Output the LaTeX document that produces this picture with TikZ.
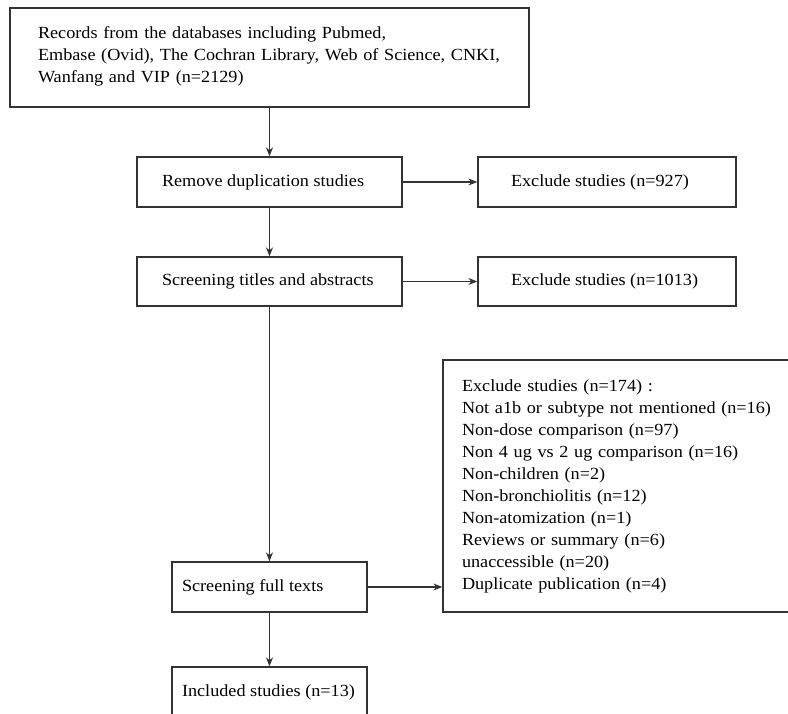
\documentclass[tikz,border=0pt]{standalone}
\usepackage{fontspec}
\setmainfont[FakeStretch=1.07]{Liberation Serif}
\usetikzlibrary{arrows.meta}
\newcommand{\lline}[2]{\makebox[#1][l]{#2}}
\begin{document}
\begin{tikzpicture}[x=1pt,y=-1pt,
  box/.style={draw=black!80, line width=1.3pt, rectangle, align=left, anchor=center,
    font=\fontsize{17}{22}\selectfont, inner ysep=0pt},
  arr/.style={draw=black!80, line width=1.2pt, -{Stealth[length=9pt,width=7pt]}}]
\useasboundingbox (0,0) rectangle (788,714);
\clip (0,0) rectangle (788,714);
\fill[white] (0,0) rectangle (788,714);
% top box 10-529, 8-107
\node[box, minimum width=519pt, minimum height=99pt, text width=463pt, inner xsep=28pt] (top) at (269.5,57.5)
  {Records from the databases including Pubmed,\\Embase (Ovid), The Cochran Library, Web of Science, CNKI,\\Wanfang and VIP (n=2129)\rule[-6pt]{0pt}{0pt}};
% remove 137-402, 157-207
\node[box, minimum width=265pt, minimum height=50pt, inner xsep=25pt] (rem) at (269.5,182)
  {\lline{215pt}{Remove duplication studies}};
\node[box, minimum width=258pt, minimum height=50pt, inner xsep=33pt] (ex1) at (607,182)
  {\lline{192pt}{Exclude studies (n=927)}};
\node[box, minimum width=265pt, minimum height=49pt, inner xsep=25pt] (scr) at (269.5,281.5)
  {\lline{215pt}{Screening titles and abstracts}};
\node[box, minimum width=258pt, minimum height=49pt, inner xsep=33pt] (ex2) at (607,281.5)
  {\lline{192pt}{Exclude studies (n=1013)}};
% big 443-(811), 360-612
\node[box, minimum width=368pt, minimum height=252pt, text width=330pt, inner xsep=19pt] (big) at (627,486)
  {Exclude studies (n=174) :\\
   Not a1b or subtype not mentioned (n=16)\\
   Non-dose comparison (n=97)\\
   Non 4 ug vs 2 ug comparison (n=16)\\
   Non-children (n=2)\\
   Non-bronchiolitis (n=12)\\
   Non-atomization (n=1)\\
   Reviews or summary (n=6)\\
   unaccessible (n=20)\\
   Duplicate publication (n=4)};
% full 172-367, 562-612
\node[box, minimum width=195pt, minimum height=50pt, inner xsep=10pt] (full) at (269.5,587)
  {\lline{175pt}{Screening full texts}};
\node[box, minimum width=195pt, minimum height=50pt, inner xsep=10pt] (inc) at (269.5,692)
  {\lline{175pt}{Included studies (n=13)}};
\draw[arr] (top.south) -- (rem.north);
\draw[arr] (rem.east) -- (ex1.west);
\draw[arr] (rem.south) -- (scr.north);
\draw[arr] (scr.east) -- (ex2.west);
\draw[arr] (scr.south) -- (full.north);
\draw[arr] (full.east) -- (full.east -| big.west);
\draw[arr] (full.south) -- (inc.north);
\end{tikzpicture}
\end{document}
